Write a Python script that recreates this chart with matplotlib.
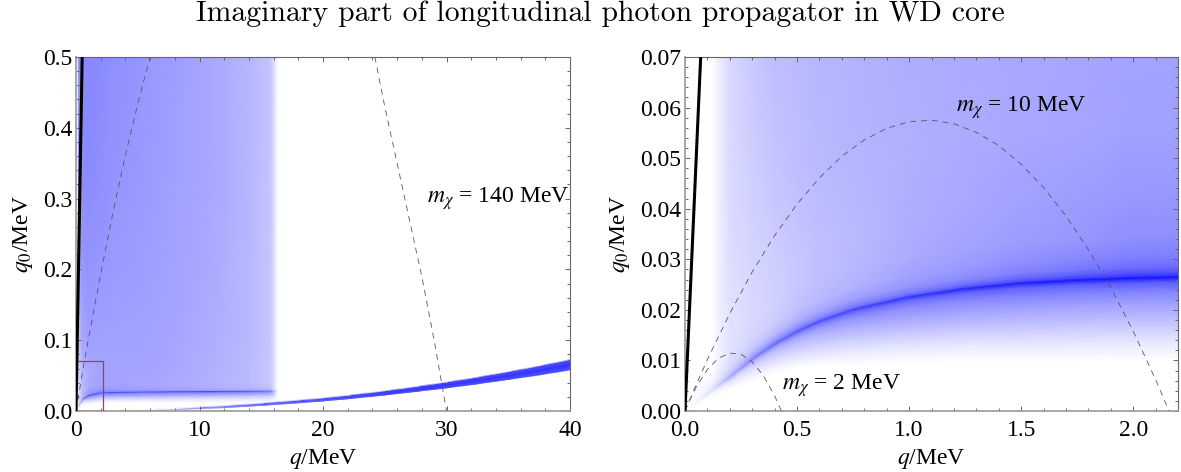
import numpy as np
import matplotlib
matplotlib.use("Agg")
import matplotlib.pyplot as plt
from matplotlib.colors import LinearSegmentedColormap
from matplotlib.patches import Rectangle
from matplotlib.ticker import MultipleLocator, FormatStrFormatter

plt.rcParams['font.family'] = ['Liberation Serif', 'DejaVu Serif']
plt.rcParams['mathtext.fontset'] = 'stix'

# ---- left panel, broad region (q < 16 MeV)
q_left = [0.12, 0.2, 0.5, 1, 2, 3, 5, 8, 11, 14, 15.7, 16, 16.3]
ridge_left = [0.0041, 0.0067, 0.0166, 0.0223, 0.0263, 0.027, 0.0275, 0.028, 0.0283, 0.0287, 0.029, 0.029, 0.029]
low_left = [0.0025, 0.004, 0.0085, 0.0095, 0.0115, 0.012, 0.012, 0.012, 0.012, 0.012, 0.012, 0.012, 0.012]
left_fracs = [1.0, 0.7, 0.4, 0.1]
left_below = [
    [0]*13,
    [0, .02, .07, .10, .12, .12, .12, .12, .10, .10, .08, .05, 0],
    [0, .04, .15, .25, .30, .30, .30, .28, .27, .25, .22, .15, 0],
    [0, .07, .35, .50, .50, .50, .50, .50, .50, .48, .45, .30, 0],
]
left_peak = [0, .30, .62, .72, .75, .75, .75, .75, .75, .72, .68, .40, 0]
left_offsets = [0.0007, 0.003, 0.01, 0.03, 0.07, 0.15, 0.3, 0.5]
left_above = [
    [0, .15, .40, .50, .50, .48, .48, .45, .42, .40, .32, .20, 0],
    [0, .12, .30, .40, .42, .40, .38, .36, .33, .30, .25, .16, 0],
    [0, .10, .26, .34, .36, .36, .35, .33, .30, .27, .22, .15, 0],
    [0, .13, .28, .33, .36, .36, .36, .34, .31, .27, .22, .15, 0],
    [0, .20, .33, .37, .37, .37, .37, .35, .32, .28, .22, .15, 0],
    [0, .30, .39, .41, .40, .39, .38, .36, .33, .28, .23, .15, 0],
    [0, .38, .45, .45, .44, .42, .40, .37, .34, .29, .23, .15, 0],
    [0, .46, .47, .47, .46, .44, .42, .38, .34, .29, .23, .15, 0],
]

# ---- left panel, narrow band at large q
q_band = [3.5, 5, 8, 10, 12, 15, 18, 20, 22, 25, 27.5, 30, 32.5, 35, 37.5, 40]
ridge_band = [0.0004, 0.001, 0.0028, 0.0045, 0.0062, 0.0095, 0.0135, 0.0163, 0.0197, 0.0255, 0.031, 0.0367, 0.0431, 0.05, 0.0573, 0.0653]
width_band = [0.0002, 0.0004, 0.0009, 0.0012, 0.0015, 0.0018, 0.0021, 0.0023, 0.0027, 0.0032, 0.0038, 0.0045, 0.0052, 0.006, 0.007, 0.008]
peak_band = [0, .05, .25, .40, .50, .60, .68, .70, .74, .78, .8, .8, .8, .8, .8, .8]
edge_ratio_band = [0.0, 0.85, 1.0]

# ---- right panel
q_right = [.03, .05, .1, .12, .15, .2, .3, .4, .5, .6, .75, 1.0, 1.25, 1.5, 1.75, 2.0, 2.2]
ridge_right = [.001, .0017, .0034, .0041, .0051, .0067, .0103, .0133, .0158, .0178, .0201, .0226, .0242, .0253, .0259, .0263, .0265]
low_right = [.001, .001, .002, .0025, .0031, .004, .0058, .0075, .0085, .009, .0092, .0095, .0097, .0098, .0099, .01, .0101]
right_fracs = [1.0, 0.75, 0.5, 0.3, 0.15, 0.05]
right_below = [
    [0]*17,
    [0, 0, 0, .01, .01, .03, .05, .07, .08, .09, .09, .10, .10, .11, .11, .11, .11],
    [0, .01, .01, .02, .04, .07, .11, .15, .18, .20, .22, .24, .25, .26, .26, .26, .26],
    [0, .01, .03, .04, .07, .12, .18, .23, .27, .30, .33, .36, .37, .38, .38, .38, .38],
    [0, .02, .05, .07, .11, .18, .27, .33, .37, .40, .43, .46, .48, .50, .50, .50, .50],
    [0, .03, .08, .10, .16, .27, .40, .47, .52, .55, .58, .60, .62, .64, .65, .66, .66],
]
right_peak = [0, .04, .10, .13, .20, .33, .50, .58, .65, .70, .74, .80, .85, .88, .90, .92, .92]
right_offsets = [.0004, .001, .002, .004, .008, .015, .03, .07]
right_above = [
    [0, .03, .08, .10, .17, .27, .40, .47, .50, .53, .55, .60, .66, .70, .74, .78, .78],
    [0, .02, .05, .07, .12, .21, .32, .38, .42, .44, .47, .50, .55, .60, .64, .68, .68],
    [0, .01, .03, .03, .08, .16, .23, .27, .32, .35, .38, .42, .46, .50, .54, .58, .58],
    [0, 0, .01, 0, .05, .12, .17, .20, .25, .28, .31, .37, .40, .44, .47, .50, .50],
    [0, 0, 0, 0, .05, .11, .15, .18, .22, .25, .28, .33, .36, .39, .41, .44, .44],
    [0, 0, 0, 0, .06, .12, .16, .19, .22, .25, .27, .32, .34, .37, .39, .41, .41],
    [0, 0, 0, 0, .06, .14, .18, .22, .25, .27, .29, .31, .33, .34, .35, .37, .37],
    [0, 0, 0, 0, .06, .16, .22, .27, .28, .30, .31, .33, .33, .34, .35, .36, .36],
]

# ---- curves
cone_q_left = [0, 0.5]
cone_q0_left = [0, 0.5]
cone_q_right = [0, 0.07]
cone_q0_right = [0, 0.07]
m140_a_q = [0, 0.25, 0.5, 1, 2, 3, 4, 5, 6]
m140_a_q0 = [0, 0.026, 0.052, 0.101, 0.194, 0.281, 0.361, 0.434, 0.5]
m140_b_q = [24.2, 25, 26, 27, 28, 29, 30]
m140_b_q0 = [0.5, 0.43, 0.35, 0.27, 0.19, 0.10, 0]
m10_q = [0, .05, .1, .2, .3, .4, .5, .6, .7, .8, .9, 1.0, 1.1, 1.2, 1.3, 1.4, 1.5, 1.6, 1.7, 1.8, 1.9, 2.0, 2.1, 2.16]
m10_q0 = [0, .0052, .0102, .0193, .0275, .0347, .0409, .0461, .0504, .0536, .0559, .0572, .0575, .0568, .0551, .0525, .0488, .0442, .0386, .0319, .0244, .0158, .0062, 0]
m2_q = [0, .02, .05, .1, .15, .2, .25, .3, .35, .4, .43]
m2_q0 = [0, .00204, .00473, .00822, .01046, .01145, .0112, .0097, .00697, .003, 0]

title = "Imaginary part of longitudinal photon propagator in WD core"

cmap = LinearSegmentedColormap.from_list("wb", ["#ffffff", "#0000ff"])

W, H = 1181, 472
fig = plt.figure(figsize=(W/100, H/100), dpi=100)
ax1 = fig.add_axes([76/W, 1-411/H, 494/W, 354/H])
ax2 = fig.add_axes([685/W, 1-411/H, 493/W, 354/H])


def profile_mesh(ax, q, ridge, low, fracs, below, peak, offsets, above):
    q = np.array(q, float)
    ridge = np.array(ridge, float)
    low = np.array(low, float)
    rows_y = [ridge - f*(ridge-low) for f in fracs] + [ridge] + [ridge + o for o in offsets]
    rows_v = list(below) + [peak] + list(above)
    Y = np.array(rows_y)
    X = np.tile(q, (len(rows_y), 1))
    ax.pcolormesh(X, Y, np.array(rows_v, float), shading='gouraud', cmap=cmap, vmin=0, vmax=1, zorder=1)


profile_mesh(ax1, q_left, ridge_left, low_left, left_fracs, left_below, left_peak, left_offsets, left_above)
profile_mesh(ax2, q_right, ridge_right, low_right, right_fracs, right_below, right_peak, right_offsets, right_above)

# narrow band
qb = np.array(q_band)
rb = np.array(ridge_band)
wb = np.array(width_band)
pb = np.array(peak_band)
sides = [-1.0, -0.85, 0.0, 0.85, 1.0]
ratios = [edge_ratio_band[0], edge_ratio_band[1], edge_ratio_band[2], edge_ratio_band[1], edge_ratio_band[0]]
Yb = np.array([rb + s*wb for s in sides])
Vb = np.array([r*pb for r in ratios])
Xb = np.tile(qb, (5, 1))
ax1.pcolormesh(Xb, Yb, Vb, shading='gouraud', cmap=cmap, vmin=0, vmax=1, zorder=1.5)

dash = dict(color='#555566', lw=0.6, ls=(0, (7, 6)), zorder=3)
ax1.plot(m140_a_q, m140_a_q0, **dash)
ax1.plot(m140_b_q, m140_b_q0, **dash)
ax1.add_patch(Rectangle((0, 0), 2.2, 0.07, fill=False, ec='#c03048', lw=0.9, zorder=3.5))
ax1.plot(cone_q_left, cone_q0_left, color='k', lw=2.2, zorder=4, solid_capstyle='butt')

ax2.plot(m10_q, m10_q0, **dash)
ax2.plot(m2_q, m2_q0, **dash)
ax2.plot(cone_q_right, cone_q0_right, color='k', lw=2.2, zorder=4, solid_capstyle='butt')

ax1.set_xlim(0, 40)
ax1.set_ylim(0, 0.5)
ax2.set_xlim(0, 2.2)
ax2.set_ylim(0, 0.07)

ax1.xaxis.set_major_locator(MultipleLocator(10))
ax1.xaxis.set_minor_locator(MultipleLocator(2))
ax1.yaxis.set_major_locator(MultipleLocator(0.1))
ax1.yaxis.set_minor_locator(MultipleLocator(0.02))
ax1.xaxis.set_major_formatter(FormatStrFormatter('%d'))
ax1.yaxis.set_major_formatter(FormatStrFormatter('%.1f'))
ax2.xaxis.set_major_locator(MultipleLocator(0.5))
ax2.xaxis.set_minor_locator(MultipleLocator(0.1))
ax2.yaxis.set_major_locator(MultipleLocator(0.01))
ax2.yaxis.set_minor_locator(MultipleLocator(0.002))
ax2.xaxis.set_major_formatter(FormatStrFormatter('%.1f'))
ax2.yaxis.set_major_formatter(FormatStrFormatter('%.2f'))

for ax in (ax1, ax2):
    ax.tick_params(which='both', direction='in', top=True, right=True, color='#666666', width=0.7, zorder=6)
    ax.tick_params(which='major', length=3.6, labelsize=17)
    ax.tick_params(axis='y', which='major', pad=2.5)
    ax.tick_params(axis='x', which='major', pad=6.5)
    ax.tick_params(which='minor', length=2.0)
    for side in ('top', 'right'):
        ax.spines[side].set_color('#666666')
        ax.spines[side].set_linewidth(0.8)
    for side in ('left', 'bottom'):
        ax.spines[side].set_color('#a0a0a0')
        ax.spines[side].set_linewidth(1.3)
    ax.set_xlabel(r'$q$/MeV', fontsize=17, labelpad=4.5)
    ax.set_ylabel(r'$q_0$/MeV', fontsize=17, labelpad=6)

ax1.text(28.4, 0.30, r'$m_\chi$ = 140 MeV', fontsize=17, va='center', ha='left', zorder=6)
ax2.text(1.21, 0.0600, r'$m_\chi$ = 10 MeV', fontsize=17, va='center', ha='left', zorder=6)
ax2.text(0.433, 0.0051, r'$m_\chi$ = 2 MeV', fontsize=17, va='center', ha='left', zorder=6)

fig.text(600/W, 1-14/H, title, family='cmr10', fontsize=21.4, ha='center', va='center')

fig.savefig('out.png', dpi=100)
